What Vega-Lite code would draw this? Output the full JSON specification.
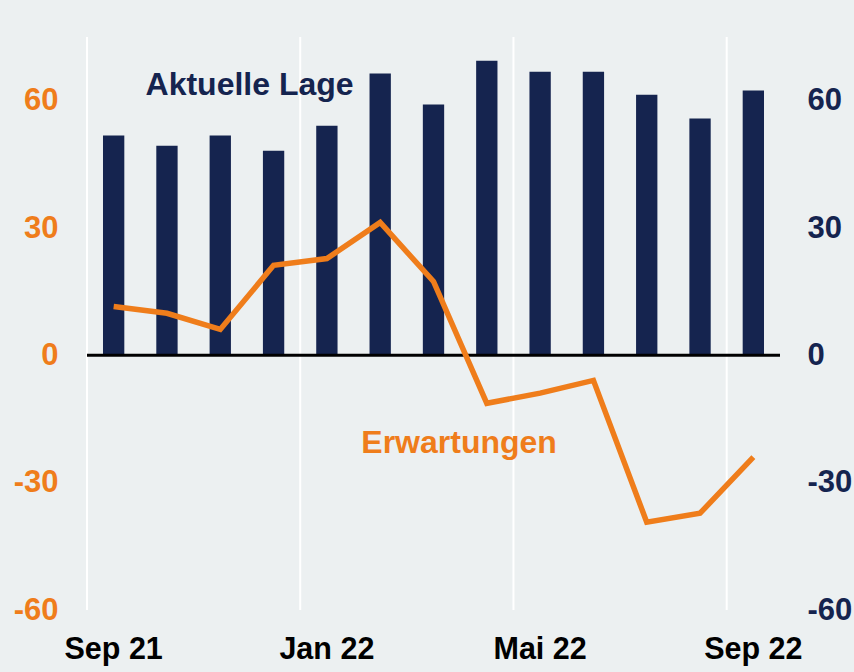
{
  "$schema": "https://vega.github.io/schema/vega-lite/v6.json",
  "width": 693,
  "height": 573,
  "autosize": "none",
  "padding": {"left": 87, "top": 37, "right": 74, "bottom": 62},
  "background": "#ecf0f1",
  "config": {
    "view": {"stroke": null},
    "font": "Liberation Sans",
    "axis": {"labelFont": "Liberation Sans", "labelFontWeight": "bold", "labelFontSize": 30, "ticks": false, "domain": false, "grid": false, "title": null}
  },
  "data": {
    "values": [
      {"m": "Sep 21", "lage": 51.8, "erw": 11.5},
      {"m": "Okt 21", "lage": 49.4, "erw": 9.9},
      {"m": "Nov 21", "lage": 51.8, "erw": 6.1},
      {"m": "Dez 21", "lage": 48.2, "erw": 21.2},
      {"m": "Jan 22", "lage": 54.1, "erw": 22.8},
      {"m": "Feb 22", "lage": 66.4, "erw": 31.3},
      {"m": "Mär 22", "lage": 59.1, "erw": 17.4},
      {"m": "Apr 22", "lage": 69.4, "erw": -11.3},
      {"m": "Mai 22", "lage": 66.8, "erw": -8.9},
      {"m": "Jun 22", "lage": 66.8, "erw": -5.9},
      {"m": "Jul 22", "lage": 61.4, "erw": -39.3},
      {"m": "Aug 22", "lage": 55.8, "erw": -37.2},
      {"m": "Sep 22", "lage": 62.4, "erw": -24.0}
    ]
  },
  "encoding": {
    "x": {
      "field": "m", "type": "ordinal", "sort": null,
      "scale": {
        "domain": ["Sep 21","Okt 21","Nov 21","Dez 21","Jan 22","Feb 22","Mär 22","Apr 22","Mai 22","Jun 22","Jul 22","Aug 22","Sep 22"],
        "paddingInner": 0, "paddingOuter": 0
      },
      "axis": {"values": ["Sep 21","Jan 22","Mai 22","Sep 22"], "labelColor": "#000000", "labelPadding": 24, "labelAngle": 0, "labelFontSize": 30.5, "title": null}
    }
  },
  "layer": [
    {
      "data": {"values": [{"m": "Sep 21"}, {"m": "Jan 22"}, {"m": "Mai 22"}, {"m": "Sep 22"}]},
      "mark": {"type": "rule", "color": "#ffffff", "strokeWidth": 2},
      "encoding": {"x": {"field": "m", "type": "ordinal", "bandPosition": 0}}
    },
    {
      "mark": {"type": "bar", "color": "#15244f", "width": {"band": 0.4}},
      "encoding": {
        "y": {"field": "lage", "type": "quantitative", "scale": {"domain": [-60, 75], "nice": false, "zero": false},
          "axis": {"orient": "right", "values": [-60, -30, 0, 30, 60], "labelColor": "#15244f", "labelPadding": 27, "labelFontSize": 31, "labelExpr": "toString(datum.value)"}}
      }
    },
    {
      "data": {"values": [{"v": 0}]},
      "mark": {"type": "rule", "color": "#000000", "strokeWidth": 3},
      "encoding": {"x": null, "y": {"field": "v", "type": "quantitative", "scale": {"domain": [-60, 75], "nice": false, "zero": false}, "axis": null}}
    },
    {
      "mark": {"type": "line", "color": "#ef7d1b", "strokeWidth": 5.5, "strokeJoin": "miter"},
      "encoding": {
        "y": {"field": "erw", "type": "quantitative", "scale": {"domain": [-60, 75], "nice": false, "zero": false},
          "axis": {"orient": "left", "values": [-60, -30, 0, 30, 60], "labelColor": "#ef7d1b", "labelPadding": 29, "labelFontSize": 31, "labelExpr": "toString(datum.value)"}}
      }
    },
    {
      "data": {"values": [{"label": "Aktuelle Lage", "pm": "Nov 21", "pv": 61.4}]},
      "mark": {"type": "text", "color": "#15244f", "fontSize": 32, "fontWeight": "bold", "align": "center", "baseline": "alphabetic"},
      "encoding": {
        "x": {"field": "pm", "type": "ordinal", "bandPosition": 1.05},
        "y": {"field": "pv", "type": "quantitative", "scale": {"domain": [-60, 75], "nice": false, "zero": false}, "axis": null},
        "text": {"field": "label"}
      }
    },
    {
      "data": {"values": [{"label": "Erwartungen", "pm": "Mär 22", "pv": -23.1}]},
      "mark": {"type": "text", "color": "#ef7d1b", "fontSize": 32, "fontWeight": "bold", "align": "center", "baseline": "alphabetic"},
      "encoding": {
        "x": {"field": "pm", "type": "ordinal", "bandPosition": 0.98},
        "y": {"field": "pv", "type": "quantitative", "scale": {"domain": [-60, 75], "nice": false, "zero": false}, "axis": null},
        "text": {"field": "label"}
      }
    }
  ],
  "resolve": {"scale": {"y": "independent"}}
}
